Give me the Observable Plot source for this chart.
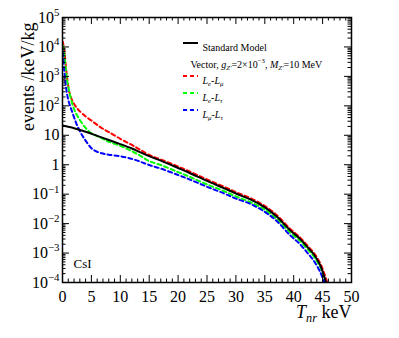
<!DOCTYPE html>
<html><head><meta charset="utf-8">
<script src="https://cdn.jsdelivr.net/npm/d3@7"></script>
<script src="https://cdn.jsdelivr.net/npm/@observablehq/plot@0.6"></script>
<style>body{margin:0;background:#fff}</style>
</head><body><div id="chart"></div>
<script>
// Recoil energy T_nr (keV) and event rates (events/keV/kg)
const smT = [0, 2, 4, 6, 8, 10, 12, 13.5, 15, 17, 20, 22, 25, 28, 30, 32.5, 35, 37, 39.4, 41, 42.4, 43.5, 44.6, 45.2, 45.6];
const smV = [21.4, 17.4, 13.2, 9.55, 6.92, 5.01, 3.55, 2.63, 1.95, 1.38, 0.776, 0.525, 0.282, 0.158, 0.105, 0.0661, 0.0355, 0.0178, 0.00589, 0.00316, 0.00158, 0.000891, 0.00038, 0.000178, 0.0001];

const emuT = [0.05, 0.3, 0.6, 0.9, 1.2, 1.6, 2, 2.5, 3.5, 5, 6.6, 8, 10, 12, 13.5, 15, 17, 20, 22, 25, 28, 30, 32.5, 35, 37, 39.4, 41, 42.4, 43.5, 44.6, 45.3, 45.8];
const emuV = [15100, 7940, 2000, 631, 282, 166, 117, 83.2, 52.5, 31.6, 18.6, 12.9, 7.59, 4.68, 3.16, 2.14, 1.51, 0.871, 0.589, 0.316, 0.178, 0.117, 0.0741, 0.0398, 0.02, 0.00661, 0.00355, 0.00178, 0.001, 0.000447, 0.0002, 0.0001];

const etauT = [0.05, 0.3, 0.6, 0.8, 1.1, 1.4, 1.8, 2.2, 3, 4, 5, 6.6, 8, 10, 12, 13.5, 15, 17, 20, 22, 25, 28, 30, 32.5, 35, 37, 39.4, 41, 42.4, 43.5, 44.6, 45.1, 45.5];
const etauV = [11200, 5620, 1580, 724, 355, 195, 100, 63.1, 33.1, 17.8, 11.7, 8.32, 6.03, 4.37, 2.88, 2.0, 1.32, 0.977, 0.562, 0.389, 0.214, 0.126, 0.0832, 0.0537, 0.0295, 0.0148, 0.00501, 0.00269, 0.00135, 0.000759, 0.000331, 0.000178, 0.0001];

const mutauT = [0.05, 0.3, 0.6, 1.0, 1.7, 2.3, 2.8, 3.4, 4, 5, 6, 7, 8, 10, 12, 13.5, 15, 17, 20, 22, 25, 28, 30, 32.5, 35, 37, 39.4, 41, 42.4, 43.5, 44.6, 45.3];
const mutauV = [6310, 1580, 447, 158, 60.3, 28.2, 16.6, 10, 6.61, 3.63, 2.75, 2.40, 2.19, 1.95, 1.58, 1.26, 0.977, 0.741, 0.447, 0.316, 0.178, 0.105, 0.0708, 0.0468, 0.0251, 0.0126, 0.00398, 0.00209, 0.001, 0.000537, 0.000224, 0.0001];

const xTickLabels = [0, 5, 10, 15, 20, 25, 30, 35, 40, 45, 50];
const yExponents = [-4, -3, -2, -1, 0, 1, 2, 3, 4, 5];

const seriesNames = ["Standard Model", "*{L}_{e}-*{L}_{μ}", "*{L}_{e}-*{L}_{τ}", "*{L}_{μ}-*{L}_{τ}"];
const seriesColors = ["#000000", "#ff0000", "#00ff00", "#0000ff"];

// ---- build table ----
const toRows = (name, T, V) => T.map((t, i) => ({series: name, t, v: V[i]}));
const smRows = toRows("SM", smT, smV);
const dashedRows = [
  ...toRows("emu", emuT, emuV),
  ...toRows("etau", etauT, etauV),
  ...toRows("mutau", mutauT, mutauV)
];
const colorOf = {SM: "#000000", emu: "#ff0000", etau: "#00ff00", mutau: "#0000ff"};

const W = 399, H = 338, ML = 62, MR = 48, MT = 17, MB = 56;
const PW = W - ML - MR, PH = H - MT - MB;

const xMinor = d3.range(0, 51, 1).filter(d => d % 5 !== 0);
const yMajor = yExponents.map(k => +("1e" + k));
const yMinor = [];
for (const k of yExponents.slice(0, -1)) for (let m = 2; m <= 9; m++) yMinor.push(+(m + "e" + k));

const yFmt = v => {
  const k = Math.round(Math.log10(v));
  if (k === 0) return "1";
  if (k === 1) return "10";
  return "10^{" + (k < 0 ? "\u2212" + (-k) : k) + "}";
};

const majorLen = 7, minorLen = 3.5;
const plot = Plot.plot({
  width: W, height: H,
  marginLeft: ML, marginRight: MR, marginTop: MT, marginBottom: MB,
  style: {fontFamily: "'Liberation Serif', 'Times New Roman', serif", background: "white", color: "black", overflow: "visible"},
  x: {domain: [0, 50]},
  y: {type: "log", domain: [1e-4, 1e5]},
  marks: [
    // lines
    Plot.line(dashedRows, {x: "t", y: "v", z: "series", stroke: d => colorOf[d.series], strokeWidth: 2, strokeDasharray: "4,3", curve: "catmull-rom", clip: true}),
    Plot.line(smRows, {x: "t", y: "v", stroke: "black", strokeWidth: 2, curve: "catmull-rom", clip: true}),
    // ticks (inward, all four sides)
    Plot.tickX(xTickLabels, {x: d => d, insetTop: PH - majorLen, stroke: "black"}),
    Plot.tickX(xMinor, {x: d => d, insetTop: PH - minorLen, stroke: "black"}),
    Plot.tickX(xTickLabels, {x: d => d, insetBottom: PH - majorLen, stroke: "black"}),
    Plot.tickX(xMinor, {x: d => d, insetBottom: PH - minorLen, stroke: "black"}),
    Plot.tickY(yMajor, {y: d => d, insetRight: PW - majorLen, stroke: "black"}),
    Plot.tickY(yMinor, {y: d => d, insetRight: PW - minorLen, stroke: "black"}),
    Plot.tickY(yMajor, {y: d => d, insetLeft: PW - majorLen, stroke: "black"}),
    Plot.tickY(yMinor, {y: d => d, insetLeft: PW - minorLen, stroke: "black"}),
    Plot.frame({stroke: "black", strokeWidth: 1.5}),
    // axes labels
    Plot.axisX({ticks: xTickLabels, tickSize: 0, tickPadding: 8, fontSize: 16, label: null, tickFormat: d => String(d)}),
    Plot.axisY({ticks: yMajor, tickSize: 0, tickPadding: 3, fontSize: 16, label: null, tickFormat: yFmt}),
    // axis titles
    Plot.text(["events /keV/kg"], {frameAnchor: "top-left", dx: -41, dy: 5, rotate: -90, textAnchor: "end", fontSize: 18}),
    Plot.text(["*{T}_{nr} keV"], {frameAnchor: "bottom-right", dx: 0, dy: 35, textAnchor: "end", fontSize: 18}),
    Plot.text(["CsI"], {frameAnchor: "bottom-left", dx: 11, dy: -15, textAnchor: "start", fontSize: 13}),
    // legend texts
    Plot.text([seriesNames[0]], {frameAnchor: "top-left", dx: 140, dy: 26, textAnchor: "start", fontSize: 10}),
    Plot.text(["Vector, *{g}_{Z'}=2×10^{\u22123}, *{M}_{Z'}=10 MeV"], {frameAnchor: "top-left", dx: 128, dy: 43, textAnchor: "start", fontSize: 10}),
    Plot.text([seriesNames[1]], {frameAnchor: "top-left", dx: 140, dy: 59, textAnchor: "start", fontSize: 10}),
    Plot.text([seriesNames[2]], {frameAnchor: "top-left", dx: 140, dy: 76, textAnchor: "start", fontSize: 10}),
    Plot.text([seriesNames[3]], {frameAnchor: "top-left", dx: 140, dy: 93, textAnchor: "start", fontSize: 10})
  ]
});
document.getElementById("chart").appendChild(plot);

// legend line samples
const legendYs = [43, 76, 93, 110];
d3.select(plot).append("g").selectAll("line").data(seriesColors).join("line")
  .attr("x1", ML + 121).attr("x2", ML + 136)
  .attr("y1", (d, i) => legendYs[i]).attr("y2", (d, i) => legendYs[i])
  .attr("stroke", d => d).attr("stroke-width", 2)
  .attr("stroke-dasharray", (d, i) => i === 0 ? null : "4,3");

// rich text: ^{sup}, _{sub italic}, *{italic}
function richify(el) {
  const s = el.textContent;
  if (!/[\^_*]\{/.test(s)) return;
  const fs = parseFloat(getComputedStyle(el).fontSize) || 12;
  const parts = s.split(/(\^\{[^}]*\}|_\{[^}]*\}|\*\{[^}]*\})/).filter(p => p !== "");
  while (el.firstChild) el.removeChild(el.firstChild);
  let cur = 0;
  const NS = "http://www.w3.org/2000/svg";
  for (const p of parts) {
    const t = document.createElementNS(NS, "tspan");
    let off = 0, txt = p, size = null, italic = false;
    if (p.startsWith("^{")) { off = -0.42 * fs; size = 0.68 * fs; txt = p.slice(2, -1); }
    else if (p.startsWith("_{")) { off = 0.25 * fs; size = 0.68 * fs; txt = p.slice(2, -1); italic = true; }
    else if (p.startsWith("*{")) { italic = true; txt = p.slice(2, -1); }
    if (off - cur !== 0) t.setAttribute("dy", off - cur);
    cur = off;
    if (size) t.setAttribute("font-size", size);
    if (italic) t.setAttribute("font-style", "italic");
    t.textContent = txt;
    el.appendChild(t);
  }
}
plot.querySelectorAll("text").forEach(richify);
</script>
</body></html>
